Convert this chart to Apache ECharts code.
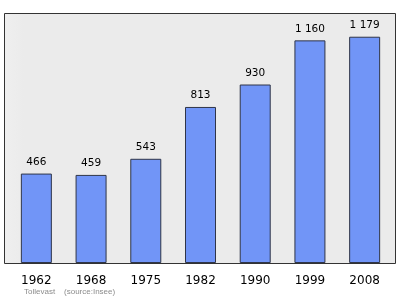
<!DOCTYPE html>
<html>
<head>
<meta charset="utf-8">
<script src="https://cdn.jsdelivr.net/npm/echarts@6/dist/echarts.min.js"></script>
<style>html,body{margin:0;padding:0;background:#fff;}#c{width:400px;height:299px;}</style>
</head>
<body>
<div id="c"></div>
<script>
var years = ['1962','1968','1975','1982','1990','1999','2008'];
var population = [466, 459, 543, 813, 930, 1160, 1179];
var valueLabels = ['466','459','543','813','930','1 160','1 179'];
var footnote = 'Tollevast    (source:Insee)';

var chart = echarts.init(document.getElementById('c'), null, {renderer: 'canvas'});
chart.setOption({
  animation: false,
  graphic: [
    {type: 'rect', shape: {x: 4.5, y: 13.5, width: 391, height: 250},
     style: {fill: {type: 'linear', x: 0, y: 0, x2: 1, y2: 0, colorStops: [{offset: 0, color: '#efefef'}, {offset: 0.05, color: '#ebebeb'}, {offset: 1, color: '#ebebeb'}]}, stroke: '#333', lineWidth: 1}, z: -10, silent: true},
    {type: 'text', left: 24, top: 288, style: {text: footnote, fill: '#8c8c8c', font: '8px "Liberation Sans", sans-serif'}}
  ],
  grid: {left: 9, right: 8, top: 13.5, bottom: 36, containLabel: false},
  xAxis: {
    type: 'category', data: years,
    axisLine: {show: false}, axisTick: {show: false},
    axisLabel: {color: '#000', fontSize: 12, fontFamily: 'DejaVu Sans', margin: 12}
  },
  yAxis: {
    type: 'value', min: 0, max: 1300,
    show: false, splitLine: {show: false}
  },
  series: [{
    type: 'bar', data: population, barWidth: 31,
    itemStyle: {color: '#7195f7', borderColor: '#2f3548', borderWidth: 1},
    label: {show: true, position: 'top', distance: 6, color: '#000', fontSize: 10.5, fontFamily: 'DejaVu Sans',
      formatter: function (p) { return valueLabels[p.dataIndex]; }}
  }]
});
</script>
</body>
</html>
